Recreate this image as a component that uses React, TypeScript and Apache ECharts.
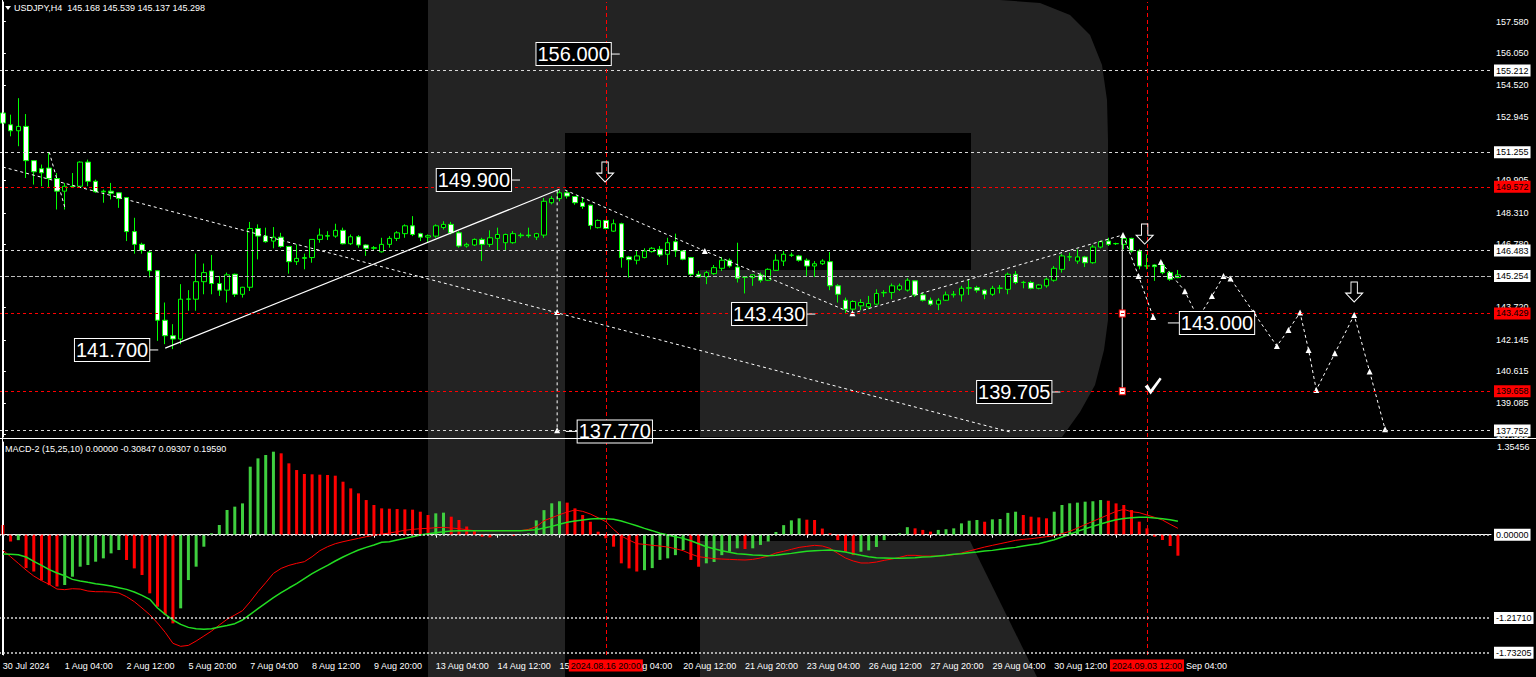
import React, { useEffect, useRef } from 'react';
import * as echarts from 'echarts';

const FONT = '"Liberation Sans", Arial, sans-serif';
const GREEN = '#00ff00';
const HIST_GREEN = '#3fcf3f';
const RED = '#ff0000';
const LINE_GRAY = '#d8d8d8';

// ---- candles (H4 bars) ----
const opens = [
  153.15, 152.58, 152.29, 152.5, 150.84, 150.45, 150.48, 149.97, 149.36, 149.6,
  149.6, 150.77, 149.84, 149.33, 149.36, 149.28, 149.05, 147.4, 146.78, 146.4,
  145.5, 143.1, 142.35, 142.19, 144.12, 144.12, 144.97, 145.49, 144.88, 144.56,
  145.33, 144.36, 144.7, 147.55, 147.18, 146.94, 147.13, 146.68, 145.94, 146.1,
  146.14, 147.02, 147.2, 147.18, 147.46, 146.81, 147.15, 146.75, 146.59, 146.42,
  146.78, 147.07, 147.3, 147.68, 147.3, 147.13, 147.18, 147.6, 147.75, 147.34,
  146.7, 146.75, 147.02, 146.78, 147.07, 146.86, 146.86, 147.2, 147.23, 147.13,
  147.23, 148.8, 149.0, 149.28, 149.1, 148.8, 148.68, 147.59, 147.94, 147.42,
  147.78, 146.17, 146.01, 146.14, 146.43, 146.54, 146.3, 146.91, 146.46, 146.14,
  145.33, 145.2, 145.36, 145.62, 146.01, 145.68, 145.2, 145.17, 145.3, 145.04,
  145.52, 145.97, 146.25, 146.22, 146.01, 145.73, 145.84, 145.94, 144.77, 144.07,
  143.64, 143.8, 143.75, 143.88, 144.43, 144.45, 144.6, 144.56, 145.01, 144.33,
  144.07, 143.88, 144.07, 144.33, 144.33, 144.65, 144.68, 144.56, 144.36, 144.65,
  144.6, 145.33, 144.93, 144.93, 144.65, 144.77, 145.04, 145.57, 146.17, 145.97,
  146.17, 145.89, 146.65, 146.94, 146.81, 146.78, 147.07, 146.46, 145.73, 145.78,
  145.78, 145.41, 145.168
];
const closes = [
  152.66, 152.29, 152.5, 150.84, 150.3, 150.25, 149.97, 149.36, 149.6, 149.58,
  150.77, 149.84, 149.33, 149.36, 149.26, 149.0, 147.4, 146.78, 146.49, 145.5,
  143.1, 142.35, 142.19, 144.12, 144.13, 144.97, 145.41, 144.88, 144.56, 145.3,
  144.36, 144.7, 147.55, 147.18, 146.91, 147.13, 146.68, 145.94, 146.1, 146.14,
  147.02, 147.23, 147.18, 147.46, 146.81, 147.15, 146.75, 146.59, 146.62, 146.78,
  147.07, 147.34, 147.68, 147.26, 147.13, 147.2, 147.68, 147.75, 147.34, 146.7,
  146.78, 147.02, 146.78, 147.1, 147.26, 147.26, 147.3, 147.23, 147.2, 147.3,
  148.87, 149.0, 149.28, 149.12, 148.8, 148.62, 147.7, 147.94, 147.55, 147.78,
  146.14, 146.04, 146.22, 146.46, 146.59, 146.27, 146.86, 146.46, 146.06, 145.33,
  145.2, 145.41, 145.65, 146.01, 145.73, 145.14, 145.19, 145.3, 145.04, 145.57,
  146.01, 146.3, 146.26, 146.01, 145.73, 145.84, 145.97, 144.77, 144.36, 143.64,
  144.01, 143.96, 143.91, 144.4, 144.45, 144.77, 144.77, 145.04, 144.33, 144.07,
  143.88, 144.07, 144.33, 144.36, 144.65, 144.68, 144.56, 144.36, 144.65, 144.66,
  145.33, 144.93, 144.94, 144.65, 144.81, 145.09, 145.62, 146.22, 146.18, 146.17,
  145.89, 146.65, 146.91, 146.78, 146.82, 147.07, 146.46, 145.73, 145.74, 145.7,
  145.41, 145.09, 145.298
];
const lows = [
  152.58, 152.02, 151.54, 150.0, 149.68, 149.6, 149.52, 148.47, 148.47, 149.52,
  149.52, 149.6, 149.28, 148.8, 148.96, 148.55, 146.94, 146.33, 146.33, 145.17,
  142.1, 141.94, 141.7, 141.94, 143.56, 143.56, 144.36, 144.36, 144.28, 143.96,
  144.23, 144.2, 144.52, 146.05, 146.86, 146.59, 146.62, 145.36, 145.78, 145.57,
  145.89, 146.86, 146.99, 147.1, 146.78, 146.75, 146.62, 146.22, 146.49, 146.38,
  146.62, 146.94, 147.1, 147.18, 146.94, 146.86, 147.1, 147.5, 147.26, 146.62,
  146.62, 146.7, 145.97, 146.65, 146.46, 146.46, 146.81, 147.1, 147.1, 146.99,
  147.1, 148.72, 148.87, 149.0, 148.7, 148.5, 147.5, 147.55, 147.51, 147.39,
  145.65, 145.17, 145.81, 146.1, 146.38, 146.17, 145.78, 146.17, 146.01, 145.2,
  145.17, 144.85, 145.3, 145.49, 145.65, 144.93, 144.4, 144.77, 144.93, 145.01,
  145.49, 145.73, 146.17, 145.94, 145.25, 145.2, 145.78, 144.56, 143.96, 143.4,
  143.36, 143.59, 143.64, 143.85, 144.23, 144.12, 144.52, 144.49, 144.23, 144.01,
  143.8, 143.59, 144.04, 144.2, 144.01, 144.33, 144.44, 144.12, 144.28, 144.4,
  144.36, 144.85, 144.65, 144.6, 144.6, 144.68, 144.97, 145.41, 145.97, 145.84,
  145.68, 145.84, 146.59, 146.7, 146.75, 146.54, 146.38, 145.57, 145.57, 145.01,
  145.33, 145.01, 145.137
];
const highs = [
  153.31, 153.07, 153.87, 153.1, 150.84, 150.65, 151.21, 150.24, 149.76, 150.24,
  150.81, 150.89, 149.92, 149.44, 149.76, 149.28, 149.05, 148.07, 146.86, 146.49,
  145.5, 143.96, 142.91, 144.85, 144.56, 146.33, 145.85, 146.27, 145.25, 145.41,
  145.36, 144.72, 147.87, 147.75, 147.59, 147.62, 147.34, 146.7, 146.78, 146.33,
  147.02, 147.55, 147.42, 147.78, 147.59, 147.26, 147.23, 146.78, 146.7, 147.1,
  147.18, 147.42, 147.75, 148.15, 147.34, 147.26, 147.75, 147.9, 147.87, 147.42,
  146.86, 147.07, 147.1, 147.46, 147.59, 147.3, 147.42, 147.34, 147.59, 147.34,
  149.03, 149.12, 149.4, 149.36, 149.12, 149.04, 148.7, 147.99, 147.96, 147.99,
  147.83, 146.22, 146.46, 146.59, 146.65, 146.7, 147.1, 147.3, 146.49, 146.17,
  145.49, 145.49, 145.78, 146.17, 146.1, 146.86, 145.25, 145.33, 145.41, 145.62,
  146.3, 146.46, 146.38, 146.27, 146.1, 145.97, 146.06, 146.41, 144.85, 144.2,
  144.07, 144.12, 144.28, 144.6, 144.56, 144.88, 144.88, 145.14, 145.04, 144.44,
  144.2, 144.17, 144.49, 144.52, 144.77, 145.09, 144.77, 144.6, 144.77, 144.81,
  145.41, 145.49, 145.01, 145.01, 144.85, 145.17, 145.73, 146.33, 146.38, 146.54,
  146.22, 146.75, 146.97, 147.1, 146.86, 147.23, 147.1, 146.54, 146.3, 145.81,
  145.94, 145.49, 145.539
];

// ---- MACD-2 (15,25,10) ----
const histValues = [
  0.142, -0.1, -0.08, -0.49, -0.54, -0.67, -0.74, -0.76, -0.738, -0.616,
  -0.469, -0.445, -0.396, -0.347, -0.274, -0.225, -0.371, -0.494, -0.591, -0.86,
  -1.056, -1.178, -1.3, -1.08, -0.665, -0.469, -0.176, 0.02, 0.142, 0.362,
  0.411, 0.459, 0.997, 1.119, 1.168, 1.217, 1.193, 1.046, 0.948, 0.89,
  0.885, 0.88, 0.875, 0.865, 0.777, 0.679, 0.606, 0.508, 0.435, 0.386,
  0.381, 0.376, 0.371, 0.367, 0.337, 0.289, 0.313, 0.323, 0.264, 0.215,
  0.12, 0.06, -0.03, -0.04, -0.01, -0.005, -0.02, 0.01, 0.02, 0.21,
  0.36, 0.46, 0.49, 0.47, 0.386, 0.289, 0.19, 0.044, -0.054, -0.176,
  -0.42, -0.494, -0.54, -0.52, -0.49, -0.37, -0.347, -0.3, -0.225, -0.37,
  -0.47, -0.42, -0.4, -0.3, -0.25, -0.2, -0.21, -0.2, -0.15, -0.1,
  0.04, 0.14, 0.21, 0.24, 0.22, 0.215, 0.09, 0.02, -0.08, -0.25,
  -0.3, -0.25, -0.23, -0.18, -0.08, -0.005, 0.02, 0.11, 0.093, 0.07,
  0.045, 0.07, 0.08, 0.093, 0.166, 0.205, 0.215, 0.19, 0.225, 0.23,
  0.32, 0.337, 0.29, 0.264, 0.254, 0.24, 0.337, 0.435, 0.46, 0.47,
  0.484, 0.49, 0.508, 0.498, 0.459, 0.435, 0.362, 0.191, 0.093, -0.03,
  -0.078, -0.166, -0.308
];
const macdLine = [
  -0.225, -0.323, -0.42, -0.518, -0.606, -0.674, -0.728, -0.797, -0.806, -0.792,
  -0.797, -0.826, -0.836, -0.836, -0.841, -0.855, -0.909, -0.982, -1.075, -1.173,
  -1.295, -1.432, -1.593, -1.637, -1.623, -1.559, -1.486, -1.413, -1.325, -1.241,
  -1.178, -1.114, -0.982, -0.836, -0.704, -0.567, -0.494, -0.45, -0.42, -0.396,
  -0.323, -0.235, -0.176, -0.132, -0.103, -0.078, -0.054, -0.029, -0.01, 0.01,
  0.024, 0.044, 0.064, 0.078, 0.088, 0.093, 0.103, 0.108, 0.098, 0.088,
  0.073, 0.059, 0.059, 0.059, 0.059, 0.059, 0.059, 0.059, 0.078, 0.117,
  0.205, 0.249, 0.293, 0.332, 0.362, 0.342, 0.303, 0.249, 0.191, 0.078,
  -0.02, -0.078, -0.132, -0.142, -0.156, -0.166, -0.181, -0.205, -0.235, -0.284,
  -0.323, -0.337, -0.352, -0.357, -0.362, -0.367, -0.371, -0.362, -0.342, -0.313,
  -0.269, -0.244, -0.215, -0.186, -0.171, -0.156, -0.166, -0.2, -0.274, -0.342,
  -0.386, -0.415, -0.415, -0.401, -0.376, -0.357, -0.332, -0.303, -0.303, -0.313,
  -0.313, -0.313, -0.308, -0.293, -0.269, -0.239, -0.21, -0.181, -0.156, -0.132,
  -0.108, -0.083, -0.068, -0.059, -0.044, -0.029, -0.015, 0.015, 0.049, 0.098,
  0.147, 0.196, 0.244, 0.293, 0.342, 0.371, 0.337, 0.323, 0.288, 0.254,
  0.215, 0.152, 0.093
];
const signalLine = [
  -0.283, -0.288, -0.293, -0.327, -0.391, -0.45, -0.513, -0.562, -0.601, -0.655,
  -0.679, -0.699, -0.718, -0.733, -0.753, -0.777, -0.802, -0.841, -0.89, -0.948,
  -1.075, -1.168, -1.251, -1.315, -1.359, -1.378, -1.388, -1.378, -1.354, -1.33,
  -1.305, -1.251, -1.168, -1.085, -1.002, -0.924, -0.85, -0.782, -0.718, -0.645,
  -0.572, -0.508, -0.45, -0.386, -0.327, -0.274, -0.225, -0.186, -0.152, -0.112,
  -0.103, -0.078, -0.054, -0.029, -0.005, 0.015, 0.029, 0.044, 0.054, 0.059,
  0.059, 0.059, 0.059, 0.059, 0.059, 0.059, 0.059, 0.059, 0.064, 0.073,
  0.098, 0.122, 0.152, 0.181, 0.2, 0.215, 0.23, 0.239, 0.235, 0.225,
  0.2, 0.166, 0.132, 0.093, 0.059, 0.02, -0.005, -0.029, -0.054, -0.088,
  -0.132, -0.176, -0.205, -0.235, -0.259, -0.279, -0.288, -0.298, -0.303, -0.308,
  -0.303, -0.288, -0.274, -0.259, -0.244, -0.235, -0.23, -0.225, -0.239, -0.254,
  -0.279, -0.303, -0.323, -0.337, -0.342, -0.347, -0.347, -0.342, -0.337, -0.327,
  -0.323, -0.313, -0.303, -0.288, -0.279, -0.264, -0.254, -0.239, -0.23, -0.215,
  -0.2, -0.186, -0.166, -0.147, -0.132, -0.103, -0.073, -0.034, 0.005, 0.049,
  0.088, 0.122, 0.156, 0.191, 0.22, 0.239, 0.249, 0.254, 0.254, 0.244,
  0.235, 0.22, 0.196
];

// ---- axes ----
const SLOT_COUNT = 193; // visible bar slots incl. empty forecast area
// time labels every 8 bars; parts hidden behind the red date boxes are left out
const xTickLabels = [
  '30 Jul 2024', '1 Aug 04:00', '2 Aug 12:00', '5 Aug 20:00', '7 Aug 04:00',
  '8 Aug 12:00', '9 Aug 20:00', '13 Aug 04:00', '14 Aug 12:00', '15',
  '', '20 Aug 12:00', '21 Aug 20:00', '23 Aug 04:00', '26 Aug 12:00',
  '27 Aug 20:00', '29 Aug 04:00', '30 Aug 12:00', '', ''
];
// visible tails of the labels partly covered by the date boxes
const partialTickLabels = [
  { index: 80, text: 'g 04:00', shift: 21 },
  { index: 152, text: 'Sep 04:00', shift: 8 }
];
const priceTicks = [157.58, 156.05, 154.52, 152.945, 149.905, 148.31, 146.78, 143.72, 142.145, 140.615, 139.085, 137.555];
const whiteLevels = [155.212, 151.255, 146.483, 145.254, 137.752];
const redLevels = [149.572, 143.429, 139.658];
const macdLevels = [0, -1.2171, -1.73205];
// period separators: bar index of the date box and the (pixel-snapped) line position
const markerLines = [
  { index: 78, lineAt: 78, text: '2024.08.16 20:00' },
  { index: 148, lineAt: 147.98, text: '2024.09.03 12:00' }
];

// ---- analysis drawings (bar index, price) ----
const longDotted = [[0, 150.53], [130.3, 137.68]];
const shortDashed = [[6.0, 151.26], [8.04, 148.54]];
const trendSolid = [[21, 141.75], [72, 149.45]];
const waveDashed = [[72.7, 149.42], [90.8, 146.46], [109.9, 143.44], [144.9, 147.24]];
const verticalDashed = [[71.7, 149.4], [71.7, 143.5], [71.7, 137.76]];
const verticalSolid = [[144.8, 147.2], [144.8, 143.43], [144.8, 139.66]];
const forecastA = [[144.9, 147.24], [146.9, 145.25], [148.8, 143.26]];
const forecastB = [
  [149.8, 145.92], [152.9, 144.51], [154.6, 143.2], [156.4, 144.27], [157.9, 145.25],
  [158.8, 145.13], [161.8, 143.47], [164.8, 141.85], [166.3, 142.63], [167.8, 143.47],
  [168.9, 141.66], [169.9, 139.72], [172.3, 141.5], [174.8, 143.35], [176.8, 140.61],
  [178.8, 137.81]
];
const levelBoxes = [
  { text: '156.000', x: 79.8, y: 156.01, side: 'left' },
  { text: '149.900', x: 66.9, y: 149.9, side: 'left' },
  { text: '141.700', x: 20.1, y: 141.66, side: 'left' },
  { text: '143.430', x: 105.1, y: 143.4, side: 'left' },
  { text: '139.705', x: 136.8, y: 139.62, side: 'left' },
  { text: '137.770', x: 72.8, y: 137.71, side: 'right' },
  { text: '143.000', x: 150.7, y: 142.97, side: 'right' }
];
const downArrows = [[77.9, 150.29], [147.7, 147.28], [174.8, 144.47]];
const checkMarks = [[148.8, 139.91]];

const MAIN_Y = [137.438, 158.534];
const MACD_Y = [-1.764, 1.359];

export default function App() {
  const ref = useRef<HTMLDivElement>(null);

  useEffect(() => {
    if (!ref.current) return;
    const chart = echarts.init(ref.current, null, { renderer: 'svg' });

    const cats = Array.from({ length: SLOT_COUNT }, (_, i) => String(i));
    const candleData = opens.map((o, i) => [o, closes[i], lows[i], highs[i]]);
    const histData = histValues.map((v, i) => ({
      value: v,
      itemStyle: { color: i > 0 && v >= histValues[i - 1] ? HIST_GREEN : RED }
    }));
    const tickShown = (idx: number) => idx % 8 === 0 && idx <= 152;

    const boxLabel = (text: string, bg: string) => ({
      show: true, position: 'end', formatter: text, distance: 3,
      backgroundColor: bg, color: '#000', padding: [2, 2, 1, 2],
      fontSize: 9, fontFamily: FONT
    });
    const separatorMarkLine = {
      silent: true, symbol: ['none', 'none'],
      data: markerLines.map((m) => ({
        xAxis: m.lineAt,
        lineStyle: { color: RED, type: [4, 3], width: 1 },
        label: { show: false }
      }))
    };

    const mainMarkLines = [
      ...whiteLevels.map((v) => ({
        yAxis: v,
        lineStyle: { color: v === 145.254 ? '#bcbcbc' : LINE_GRAY, type: v === 145.254 ? [4, 2] : [3, 3], width: 1 },
        label: boxLabel(v.toFixed(3), '#ffffff')
      })),
      ...redLevels.map((v) => ({
        yAxis: v,
        lineStyle: { color: RED, type: [3, 3], width: 1 },
        label: boxLabel(v.toFixed(3), RED)
      }))
    ];

    const macdMarkLines = macdLevels.map((v) => ({
      yAxis: v,
      lineStyle: { color: LINE_GRAY, type: [2, 2], width: 1.5 },
      label: boxLabel(v.toFixed(5), '#ffffff')
    }));

    const drawLine = (data: any[], dash: any, extra: any = {}) => ({
      type: 'line', xAxisIndex: 1, yAxisIndex: 0, data, silent: true,
      symbol: 'none', z: 4,
      lineStyle: { color: '#ffffff', width: 1, type: dash },
      ...extra
    });
    const tri = (data: number[][], skip: number[]) =>
      data.map((p, i) => ({ value: p, symbol: skip.includes(i) ? 'none' : 'triangle', symbolSize: 6 }));

    // red date boxes under the time axis + separator lines in the MACD pane
    const dateBoxSeries = {
      type: 'scatter', xAxisIndex: 3, yAxisIndex: 1, silent: true, z: 8,
      symbol: 'rect', symbolSize: [1, 1], itemStyle: { color: 'rgba(0,0,0,0)', opacity: 1 },
      markLine: separatorMarkLine,
      data: markerLines.map((m) => ({
        value: [m.index, MACD_Y[0]],
        label: {
          show: true, position: 'bottom', distance: 4, formatter: m.text,
          backgroundColor: RED, color: '#000', padding: [2, 2, 1, 2],
          fontSize: 9, fontFamily: FONT
        }
      }))
    };

    const partialLabelSeries = {
      type: 'scatter', xAxisIndex: 2, yAxisIndex: 1, silent: true, z: 8,
      symbol: 'rect', symbolSize: [1, 1], itemStyle: { color: 'rgba(0,0,0,0)', opacity: 1 },
      data: partialTickLabels.map((p) => ({
        value: [p.index, MACD_Y[0]],
        label: {
          show: true, position: 'bottom', distance: 6, align: 'left',
          offset: [p.shift, 0], formatter: p.text,
          color: '#ffffff', fontSize: 9, fontFamily: FONT
        }
      }))
    };

    const WM = '#232323';

    const option: any = {
      animation: false,
      backgroundColor: '#000000',
      grid: [
        { left: -1, top: 2, width: 1492, height: 435, outerBoundsMode: 'none' },
        { left: -1, top: 442, width: 1492, height: 213, outerBoundsMode: 'none' }
      ],
      xAxis: [
        { type: 'category', gridIndex: 0, data: cats, show: false },
        { type: 'value', gridIndex: 0, min: -0.5, max: SLOT_COUNT - 0.5, show: false },
        {
          type: 'category', gridIndex: 1, data: cats, boundaryGap: true,
          axisLine: { show: true, lineStyle: { color: '#ffffff', width: 1 } },
          axisTick: { show: true, alignWithLabel: true, interval: tickShown, length: 3, lineStyle: { color: '#ffffff' } },
          axisLabel: {
            show: true, interval: tickShown, align: 'left', margin: 6,
            color: '#ffffff', fontSize: 9, fontFamily: FONT,
            formatter: (_v: string, idx: number) => xTickLabels[idx / 8] || ''
          },
          splitLine: { show: false }
        },
        { type: 'value', gridIndex: 1, min: -0.5, max: SLOT_COUNT - 0.5, show: false }
      ],
      yAxis: [
        {
          type: 'value', gridIndex: 0, position: 'right', min: MAIN_Y[0], max: MAIN_Y[1],
          axisLine: { show: true, lineStyle: { color: '#ffffff', width: 1 } },
          axisTick: { show: true, customValues: priceTicks, length: 3, inside: false, lineStyle: { color: '#ffffff' } },
          axisLabel: {
            show: true, customValues: priceTicks, margin: 5, color: '#ffffff',
            fontSize: 9, fontFamily: FONT, formatter: (v: number) => v.toFixed(3)
          },
          splitLine: { show: false }
        },
        {
          type: 'value', gridIndex: 1, position: 'right', min: MACD_Y[0], max: MACD_Y[1],
          axisLine: { show: true, lineStyle: { color: '#ffffff', width: 1 } },
          axisTick: { show: false },
          axisLabel: {
            show: true, customValues: [1.35456], margin: 6, color: '#ffffff',
            verticalAlign: 'top', fontSize: 9, fontFamily: FONT,
            formatter: (v: number) => v.toFixed(5)
          },
          splitLine: { show: false }
        }
      ],
      graphic: {
        elements: [
          { type: 'rect', z: -100, silent: true, shape: { x: 428, y: 0, width: 137, height: 677 }, style: { fill: WM } },
          {
            type: 'polygon', z: -100, silent: true,
            shape: {
              points: [[565, 0], [1000, 0], [1040, 3], [1070, 15], [1090, 35], [1102, 65], [1107, 100], [1108, 140],
                [1108, 320], [1104, 350], [1095, 385], [1080, 412], [1062, 437], [700, 437], [700, 270],
                [971, 270], [971, 133], [565, 133]]
            },
            style: { fill: WM }
          },
          {
            type: 'polygon', z: -100, silent: true,
            shape: { points: [[700, 541], [970, 541], [1037, 677], [700, 677]] },
            style: { fill: WM }
          },
          { type: 'line', z: 50, silent: true, shape: { x1: 0, y1: 438.5, x2: 1536, y2: 438.5 }, style: { stroke: '#ffffff', lineWidth: 1 } },
          { type: 'line', z: 50, silent: true, shape: { x1: 2.5, y1: 0, x2: 2.5, y2: 655 }, style: { stroke: '#ffffff', lineWidth: 1 } },
          { type: 'polygon', z: 60, silent: true, shape: { points: [[5, 6], [11, 6], [8, 10]] }, style: { fill: '#ffffff' } },
          {
            type: 'text', z: 60, silent: true, x: 14, y: 3,
            style: { text: 'USDJPY,H4  145.168 145.539 145.137 145.298', fill: '#ffffff', fontSize: 9, fontFamily: FONT, verticalAlign: 'top' }
          },
          {
            type: 'text', z: 60, silent: true, x: 5, y: 444,
            style: { text: 'MACD-2 (15,25,10) 0.00000 -0.30847 0.09307 0.19590', fill: '#ffffff', fontSize: 9, fontFamily: FONT, verticalAlign: 'top' }
          }
        ]
      },
      series: [
        {
          type: 'candlestick', xAxisIndex: 0, yAxisIndex: 0, data: candleData,
          barWidth: 5, silent: true, z: 3,
          itemStyle: { color: '#000000', color0: '#ffffff', borderColor: GREEN, borderColor0: GREEN, borderWidth: 1 },
          markLine: { silent: true, symbol: ['none', 'none'], data: mainMarkLines }
        },
        dateBoxSeries,
        partialLabelSeries,
        drawLine(longDotted, [3, 3], { markLine: separatorMarkLine }),
        drawLine(shortDashed, [3, 3]),
        drawLine(trendSolid, 'solid', { lineStyle: { color: '#ffffff', width: 1.2, type: 'solid' } }),
        drawLine(tri(waveDashed, [0]), [3, 3], { itemStyle: { color: '#ffffff' } }),
        drawLine(tri(verticalDashed, [0]), [3, 3], { itemStyle: { color: '#ffffff' } }),
        drawLine(
          verticalSolid.map((p, i) => ({ value: p, symbol: i === 0 ? 'none' : 'rect', symbolSize: [6, 7] })),
          'solid',
          { itemStyle: { color: '#ffffff', borderColor: RED, borderWidth: 1 } }
        ),
        drawLine(tri(forecastA, [0]), [3, 3], { itemStyle: { color: '#ffffff' } }),
        drawLine(tri(forecastB, [2]), [3, 3], { itemStyle: { color: '#ffffff' } }),
        {
          type: 'scatter', xAxisIndex: 1, yAxisIndex: 0, silent: true, z: 6,
          symbol: 'path://M5,0L11,0L11,10L16,10L8,18L0,10L5,10Z', symbolSize: [17, 20],
          itemStyle: { color: 'rgba(0,0,0,0)', borderColor: '#ffffff', borderWidth: 1, opacity: 1 },
          data: downArrows
        },
        {
          type: 'scatter', xAxisIndex: 1, yAxisIndex: 0, silent: true, z: 6,
          symbol: 'path://M0,9L3,7L6,12L15,0L17,1.5L6,17Z', symbolSize: [17, 17],
          itemStyle: { color: '#ffffff', opacity: 1 },
          data: checkMarks
        },
        {
          type: 'scatter', xAxisIndex: 1, yAxisIndex: 0, silent: true, z: 7,
          symbol: 'rect', itemStyle: { color: '#ffffff', opacity: 1 },
          label: {
            show: true, fontSize: 20, color: '#ffffff', fontFamily: FONT,
            backgroundColor: '#000000', borderColor: '#ffffff', borderWidth: 1,
            padding: [2, 1, 0, 1], distance: 0
          },
          data: levelBoxes.map((b) => ({
            value: [b.x, b.y],
            symbolSize: b.side === 'left' ? [9, 1] : [12, 1],
            symbolOffset: b.side === 'left' ? [-4.5, 0] : [6, 0],
            label: { position: b.side, formatter: b.text }
          }))
        },
        {
          type: 'bar', xAxisIndex: 2, yAxisIndex: 1, data: histData, barWidth: 3, silent: true, z: 2,
          markLine: { silent: true, symbol: ['none', 'none'], data: macdMarkLines }
        },
        {
          type: 'line', xAxisIndex: 2, yAxisIndex: 1, data: macdLine, symbol: 'none', silent: true, z: 4,
          lineStyle: { color: RED, width: 1 }
        },
        {
          type: 'line', xAxisIndex: 2, yAxisIndex: 1, data: signalLine, symbol: 'none', silent: true, z: 4,
          lineStyle: { color: '#22dd22', width: 1.5 }
        }
      ]
    };

    chart.setOption(option);
    return () => chart.dispose();
  }, []);

  return (
    <div
      ref={ref}
      style={{ position: 'absolute', left: 0, top: 0, width: 1536, height: 677, background: '#000' }}
    />
  );
}
